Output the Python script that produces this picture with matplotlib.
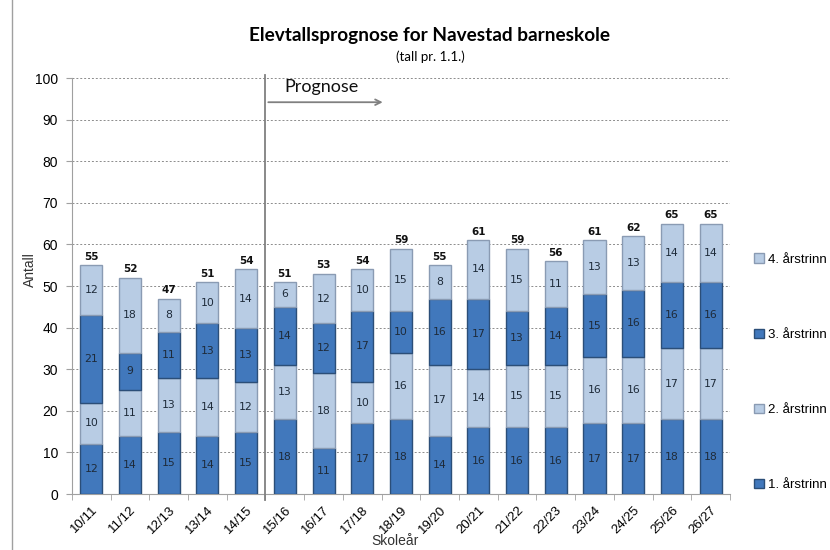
import matplotlib.pyplot as plt
import matplotlib.lines as mlines
import numpy as np

# Skoleår and antall elever per årstrinn
years = ["10/11", "11/12", "12/13", "13/14", "14/15", "15/16", "16/17", "17/18", "18/19",
         "19/20", "20/21", "21/22", "22/23", "23/24", "24/25", "25/26", "26/27"]
trinn1 = [12, 14, 15, 14, 15, 18, 11, 17, 18, 14, 16, 16, 16, 17, 17, 18, 18]
trinn2 = [10, 11, 13, 14, 12, 13, 18, 10, 16, 17, 14, 15, 15, 16, 16, 17, 17]
trinn3 = [21, 9, 11, 13, 13, 14, 12, 17, 10, 16, 17, 13, 14, 15, 16, 16, 16]
trinn4 = [12, 18, 8, 10, 14, 6, 12, 10, 15, 8, 14, 15, 11, 13, 13, 14, 14]
series_names = ["1. årstrinn", "2. årstrinn", "3. årstrinn", "4. årstrinn"]

dark = "#4178BC"
light = "#B8CCE4"
colors = [dark, light, dark, light]
edges = ["#2B4E78", "#8A9BB3", "#2B4E78", "#8A9BB3"]

plt.rcParams["font.family"] = ["Liberation Sans", "DejaVu Sans"]

fig = plt.figure(figsize=(8.3, 5.5), dpi=100)
ax = fig.add_axes([0.0867, 0.1018, 0.7928, 0.7562])

x = np.arange(len(years))
bottom = np.zeros(len(years))
handles = []
for vals, name, c, ec in zip([trinn1, trinn2, trinn3, trinn4], series_names, colors, edges):
    vals = np.array(vals)
    bars = ax.bar(x, vals, 0.57, bottom=bottom, color=c, edgecolor=ec, linewidth=1.0,
                  label=name, zorder=3)
    handles.append(bars)
    for xi, b, v in zip(x, bottom, vals):
        ax.text(xi, b + v / 2, str(v), ha="center", va="center", fontsize=7.8,
                color="#1E2B3A", family="DejaVu Sans", zorder=4)
    bottom += vals

for xi, tot in zip(x, bottom):
    ax.text(xi, tot + 0.8, str(int(tot)), ha="center", va="bottom", fontsize=7.5,
            fontweight="bold", color="#111111", family="DejaVu Sans", zorder=4)

ax.set_xlim(-0.5, len(years) - 0.5)
ax.set_ylim(0, 100)
ax.set_yticks(range(0, 101, 10))
ax.set_xticks(x)
ax.set_xticklabels(years, rotation=45, ha="right", rotation_mode="anchor", fontsize=9.5)
ax.set_xticks(np.arange(-0.5, len(years), 1), minor=True)
ax.tick_params(axis="x", which="major", length=0, pad=7)
ax.tick_params(axis="x", which="minor", length=4, color="#A0A0A0")
ax.tick_params(axis="y", length=4, color="#A0A0A0", labelsize=10, pad=6)
ax.yaxis.grid(True, linestyle=(0, (2, 2)), color="#8C8C8C", linewidth=0.7, zorder=0)

for side in ["top", "right"]:
    ax.spines[side].set_visible(False)
for side in ["left", "bottom"]:
    ax.spines[side].set_color("#A0A0A0")

fig.text(30 / 830, 0.51, "Antall", rotation=90, ha="center", va="center", fontsize=10, color="#333333")
fig.text(0.476, 0.003, "Skoleår", ha="center", va="bottom", fontsize=10, color="#333333")

# Prognose marker
ax.plot([4.5, 4.5], [-1.5, 100.8], color="#808080", linewidth=1.3, clip_on=False, zorder=5)
ax.annotate("", xy=(7.6, 94.2), xytext=(4.5, 94.2),
            arrowprops=dict(arrowstyle="->", color="#808080", lw=1.3), zorder=5)
ax.text(5.0, 96.0, "Prognose", fontsize=13, family="Lato", ha="left", va="bottom", color="#111111")

fig.text(0.518, 0.935, "Elevtallsprognose for Navestad barneskole", ha="center", va="center",
         fontsize=13.7, fontweight="bold", family="Lato")
fig.text(0.518, 0.897, "(tall pr. 1.1.)", ha="center", va="center", fontsize=9.5, family="Lato")

leg = fig.legend(handles[::-1], series_names[::-1], loc="center left",
                 bbox_to_anchor=(0.902, 0.323), frameon=False, fontsize=9.5,
                 labelspacing=4.75, handlelength=0.75, handleheight=0.75, handletextpad=0.35,
                 borderaxespad=0)

fig.add_artist(mlines.Line2D([12 / 830, 12 / 830], [0, 1], color="#A0A0A0", linewidth=1))

fig.savefig("out.png", dpi=100)
